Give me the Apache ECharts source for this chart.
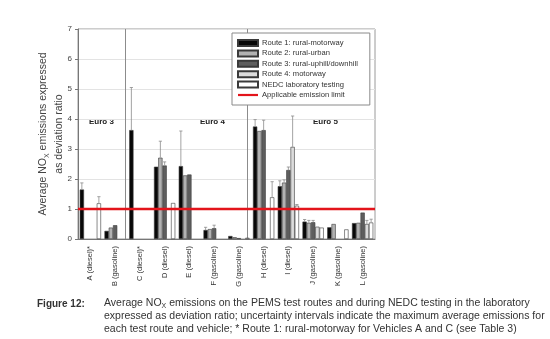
<!DOCTYPE html>
<html>
<head>
<meta charset="utf-8">
<script src="https://cdn.jsdelivr.net/npm/echarts@6/dist/echarts.min.js"></script>
<style>
  html, body { margin: 0; padding: 0; background: #fff; }
  #chart { width: 550px; height: 339px; }
</style>
</head>
<body>
<div id="chart"></div>
<script>
// Vehicles (x-axis categories)
const vehicles = ['A (diesel)*', 'B (gasoline)', 'C (diesel)*', 'D (diesel)', 'E (diesel)',
  'F (gasoline)', 'G (gasoline)', 'H (diesel)', 'I (diesel)', 'J (gasoline)', 'K (gasoline)', 'L (gasoline)'];

// Average NOx deviation ratio per route
const route1 = [1.65, 0.27, 3.63, 2.41, 2.43, 0.30, 0.10, 3.75, 1.76, 0.58, 0.39, 0.53];
const route2 = [null, 0.38, null, 2.71, 2.12, 0.33, 0.06, 3.60, 1.88, 0.54, 0.50, 0.54];
const route3 = [null, 0.46, null, 2.45, 2.15, 0.36, 0.03, 3.63, 2.30, 0.56, null, 0.88];
const route4 = [null, null, null, null, null, null, null, null, 3.07, 0.41, null, 0.50];
const nedc   = [1.19, null, null, 1.20, null, null, 0.04, 1.39, 1.11, 0.38, 0.32, 0.55];

// Upper ends of the uncertainty intervals (maximum average emissions)
const route1Max = [1.87, null, 5.05, null, 3.60, 0.39, null, 3.98, 1.94, 0.65, null, null];
const route2Max = [null, null, null, 3.26, null, null, null, null, 1.97, 0.62, null, null];
const route3Max = [null, null, null, 2.57, null, 0.46, null, 3.96, 2.40, 0.62, null, null];
const route4Max = [null, null, null, null, null, null, null, null, 4.10, null, null, 0.62];
const nedcMax   = [1.41, null, null, null, null, null, null, 1.91, 1.15, null, null, 0.66];

// Applicable emission limit (deviation ratio)
const emissionLimit = 1;

// Y-axis ticks
const yTicks = [0, 1, 2, 3, 4, 5, 6, 7];

const seriesNames = ['Route 1: rural-motorway', 'Route 2: rural-urban', 'Route 3: rural-uphill/downhill',
  'Route 4: motorway', 'NEDC laboratory testing'];
const limitName = 'Applicable emission limit';

const values = [route1, route2, route3, route4, nedc];
const maxima = [route1Max, route2Max, route3Max, route4Max, nedcMax];
const fills = ['#080808', '#b2b2b2', '#5e5e5e', '#dcdcdc', '#ffffff'];
const CAT_GAP = 0.14;
const LIMIT_RED = '#e3141b';

const barSeries = values.map((data, i) => ({
  name: seriesNames[i],
  type: 'bar',
  data: data,
  barGap: '0%',
  barCategoryGap: (CAT_GAP * 100) + '%',
  itemStyle: { color: fills[i], borderColor: '#3a3a3a', borderWidth: 0.6 },
  emphasis: { disabled: true },
  z: 3
}));

// error bar items: [category index, series slot, value, upper end]
const errData = [];
maxima.forEach((arr, s) => {
  arr.forEach((top, c) => {
    if (top != null && values[s][c] != null) errData.push([c, s, values[s][c], top]);
  });
});

const chart = echarts.init(document.getElementById('chart'), null, { renderer: 'canvas' });

const captionRich = {
  n: { fontSize: 10.5, fill: '#333', lineHeight: 13 },
  s: { fontSize: 7, fill: '#333', verticalAlign: 'bottom', lineHeight: 10 }
};

const option = {
  animation: false,
  backgroundColor: '#ffffff',
  textStyle: { fontFamily: 'Liberation Sans, Arial, sans-serif' },
  grid: { left: 78, top: 29, width: 297, height: 210, show: true, borderColor: '#9a9a9a', borderWidth: 1 },
  legend: {
    orient: 'vertical',
    left: 232,
    top: 33,
    padding: [6, 12, 6, 5],
    itemWidth: 20,
    itemHeight: 6,
    itemGap: 2.4,
    borderColor: '#8a8a8a',
    borderWidth: 1,
    backgroundColor: '#ffffff',
    textStyle: { fontSize: 7.6, color: '#333', padding: [0, 0, 0, -1] },
    data: seriesNames.map(n => ({ name: n, icon: 'rect' })).concat([{
      name: limitName,
      icon: 'path://M0,0H20V2.2H0Z',
      itemStyle: { color: LIMIT_RED }
    }]),
    selectedMode: false,
    z: 10
  },
  xAxis: [{
    type: 'category',
    data: vehicles,
    axisLine: { lineStyle: { color: '#777' } },
    axisTick: { alignWithLabel: true, length: 2, lineStyle: { color: '#777' } },
    axisLabel: { rotate: 90, fontSize: 7.5, color: '#333', margin: 7, interval: 0 },
    splitLine: { show: false }
  }, {
    type: 'value',
    min: -0.5,
    max: 11.5,
    show: false
  }],
  yAxis: {
    type: 'value',
    min: yTicks[0],
    max: yTicks[yTicks.length - 1],
    interval: 1,
    axisLine: { show: true, onZero: false, lineStyle: { color: '#777' } },
    axisTick: { show: true, length: 3, lineStyle: { color: '#777' } },
    axisLabel: { fontSize: 8, color: '#444', margin: 6 },
    splitLine: { lineStyle: { color: '#e3e3e3', width: 1 } },
    name: '{n|Average NO}{s|X}{n| emissions expressed}\n{n|as deviation ratio}',
    nameLocation: 'middle',
    nameRotate: 90,
    nameGap: 11,
    nameMoveOverlap: false,
    nameTextStyle: {
      color: '#444',
      lineHeight: 16,
      rich: {
        n: { fontSize: 10.5, color: '#444', lineHeight: 16 },
        s: { fontSize: 7, color: '#444', verticalAlign: 'bottom', lineHeight: 12 }
      }
    }
  },
  series: barSeries.concat([
    {
      type: 'custom',
      name: 'max',
      data: errData,
      z: 4,
      silent: true,
      renderItem: function (params, api) {
        const c = api.value(0), s = api.value(1);
        const base = api.coord([c, api.value(2)]);
        const top = api.coord([c, api.value(3)]);
        const band = api.size([1, 0])[0];
        const bw = band * (1 - CAT_GAP) / 5;
        const x = base[0] + (s - 2) * bw;
        const style = { stroke: '#8c8c8c', lineWidth: 0.8 };
        return {
          type: 'group',
          children: [
            { type: 'line', shape: { x1: x, y1: base[1], x2: x, y2: top[1] }, style: style },
            { type: 'line', shape: { x1: x - 1.6, y1: top[1], x2: x + 1.6, y2: top[1] }, style: style }
          ]
        };
      }
    },
    {
      name: limitName,
      type: 'line',
      xAxisIndex: 1,
      data: [[-0.5, emissionLimit], [11.5, emissionLimit]],
      symbol: 'none',
      lineStyle: { color: LIMIT_RED, width: 2.5 },
      itemStyle: { color: LIMIT_RED },
      z: 6,
      silent: true,
      markLine: {
        silent: true,
        symbol: ['none', 'none'],
        label: { show: false },
        lineStyle: { color: '#8c8c8c', width: 1, type: 'solid' },
        data: [{ xAxis: 1.4 }, { xAxis: 6.35 }],
        z: 2
      }
    }
  ]),
  graphic: [
    { type: 'text', left: 89, top: 118, style: { text: 'Euro 3', fontSize: 8, fontWeight: 'bold', fill: '#222' } },
    { type: 'text', left: 200, top: 118, style: { text: 'Euro 4', fontSize: 8, fontWeight: 'bold', fill: '#222' } },
    { type: 'text', left: 313, top: 118, style: { text: 'Euro 5', fontSize: 8, fontWeight: 'bold', fill: '#222' } },
    { type: 'text', left: 37, top: 299, style: { text: 'Figure 12:', fontSize: 10, fontWeight: 'bold', fill: '#333' } },
    { type: 'text', left: 104, top: 298, style: {
      text: '{n|Average NO}{s|X}{n| emissions on the PEMS test routes and during NEDC testing in the laboratory}',
      rich: captionRich
    } },
    { type: 'text', left: 104, top: 311, style: { text: 'expressed as deviation ratio; uncertainty intervals indicate the maximum average emissions for', fontSize: 10.5, fill: '#333' } },
    { type: 'text', left: 104, top: 324, style: { text: 'each test route and vehicle; * Route 1: rural-motorway for Vehicles A and C (see Table 3)', fontSize: 10.5, fill: '#333' } }
  ]
};

chart.setOption(option);
</script>
</body>
</html>
